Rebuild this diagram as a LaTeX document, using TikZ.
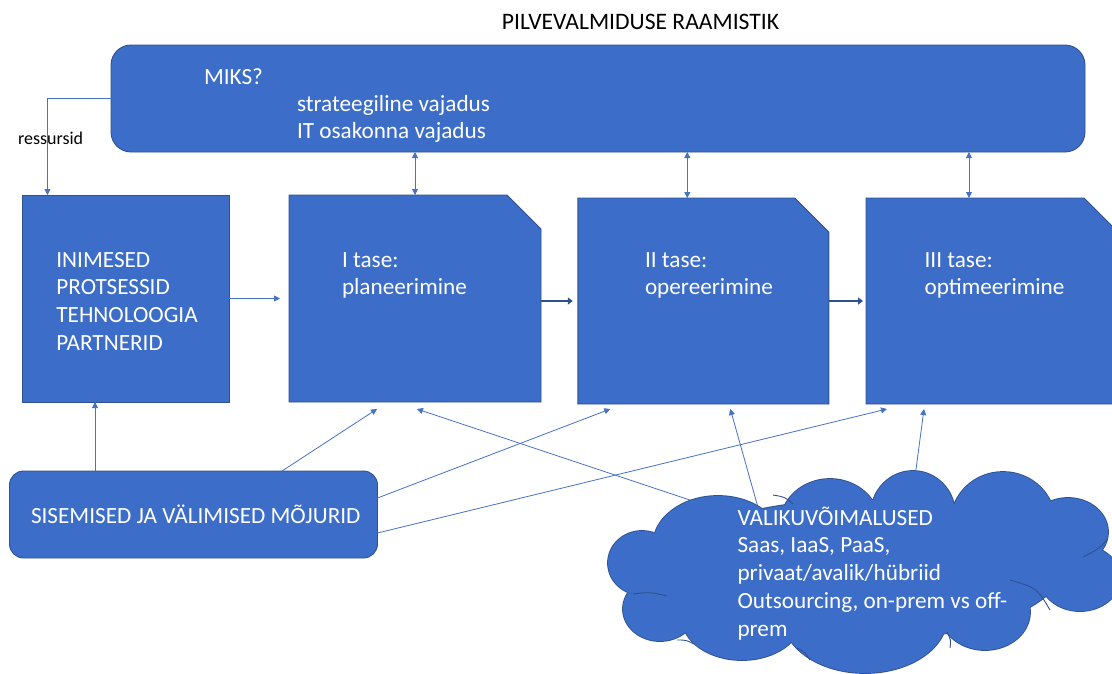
\documentclass[tikz,border=0pt]{standalone}
\usepackage{fontspec}
\setmainfont{Carlito}
\usetikzlibrary{arrows.meta}
\definecolor{boxfill}{HTML}{3C6DC8}
\definecolor{boxline}{HTML}{2F528F}
\definecolor{linkblue}{HTML}{4472C4}

\begin{document}
\begin{tikzpicture}[x=1pt,y=-1pt,
  every node/.style={inner sep=0pt, outer sep=0pt},
  panel/.style={draw=boxline, line width=0.9pt, fill=boxfill},
  boxtext/.style={text=white, font=\fontsize{23.2}{27.8}\selectfont, align=left, anchor=base west},
  link/.style={draw=linkblue, line width=0.8pt, -{Triangle[length=6pt,width=6pt]}},
  twoway/.style={draw=linkblue, line width=0.8pt, {Triangle[length=6pt,width=6pt]}-{Triangle[length=6pt,width=6pt]}},
  flow/.style={draw=boxline, line width=2.6pt, -{Triangle[length=5pt,width=7pt]}},
  crease/.style={draw=boxline, line width=0.9pt},
]
\useasboundingbox (0,0) rectangle (1112,673);
\clip (0,0) rectangle (1112,673);

% title
\node (title) [font=\fontsize{23.6}{28}\selectfont, anchor=base] at (640.5,29) {PILVEVALMIDUSE RAAMISTIK};

% top banner (multi-line texts are placed by the baseline of their last line)
\node (miks) [panel, rounded corners=20pt, minimum width=974pt, minimum height=107pt] at (598,98.5) {};
\node (miksA) [boxtext] at (204,84) {MIKS?};
\node (miksB) [boxtext] at (297,138.8) {strateegiline vajadus\\IT osakonna vajadus};

% left square
\node (inim) [panel, minimum width=207pt, minimum height=207pt] at (125.5,298.5) {};
\node (inimT) [boxtext] at (56.4,350.4) {INIMESED\\PROTSESSID\\TEHNOLOOGIA\\PARTNERID};

% three levels, snipped top-right corner
\node (b1) [minimum width=252pt, minimum height=207pt] at (415,298.5) {};
\draw[panel] (b1.south west) -- (b1.north west) -- ([xshift=-34pt]b1.north east)
  -- ([yshift=-34pt]b1.north east) -- (b1.south east) -- cycle;
\node (b2) [minimum width=251pt, minimum height=206pt] at (703.3,301) {};
\draw[panel] (b2.south west) -- (b2.north west) -- ([xshift=-34pt]b2.north east)
  -- ([yshift=-34pt]b2.north east) -- (b2.south east) -- cycle;
\node (b3) [minimum width=252pt, minimum height=206pt] at (992,301) {};
\draw[panel] (b3.south west) -- (b3.north west) -- ([xshift=-34pt]b3.north east)
  -- ([yshift=-34pt]b3.north east) -- (b3.south east) -- cycle;
\node (b1T) [boxtext] at (342,294.8) {I tase:\\planeerimine};
\node (b2T) [boxtext] at (645,294.8) {II tase:\\opereerimine};
\node (b3T) [boxtext] at (924.6,294.8) {III tase:\\optimeerimine};

% influences
\node (m) [panel, rounded corners=14pt, minimum width=368pt, minimum height=87pt] at (193.5,514.5) {};
\node (mT) [boxtext] at (31,523) {SISEMISED JA VÄLIMISED MÕJURID};

% resources
\node (res) [font=\fontsize{18}{20}\selectfont, anchor=base west] at (18,144) {ressursid};
\draw[link] (miks.west) -| ([xshift=25.5pt]inim.north west);

% banner <-> levels
\coordinate (t2) at ([xshift=-16pt]b2.north);
\coordinate (t3) at ([xshift=-23pt]b3.north);
\draw[twoway] (b1.north |- miks.south) -- (b1.north);
\draw[twoway] (t2 |- miks.south) -- (t2);
\draw[twoway] (t3 |- miks.south) -- (t3);

% flow between squares
\draw[link] (inim.east) -- ([xshift=-9pt]b1.west);
\draw[flow] (b1.east |- b2.west) -- ([xshift=-5pt]b2.west);
\draw[flow] (b2.east) -- ([xshift=-3pt]b3.west);

% influences -> squares
\coordinate (u0) at ([xshift=-30.5pt]inim.south);
\draw[link] (u0 |- m.north) -- (u0);
\draw[link] ([xshift=88.5pt]m.north) -- ([xshift=-38pt,yshift=-7pt]b1.south);
\draw[link] ([yshift=16.5pt]m.east) -- ([xshift=-93pt,yshift=-5pt]b2.south);
\draw[link] ([yshift=-18.5pt]m.east) -- ([xshift=-105pt,yshift=-5pt]b3.south);

% options cloud -> squares (start under the cloud)
\coordinate (c1) at (720,510);
\coordinate (c2) at (759,511);
\coordinate (c3) at (913,492);
\draw[link] (c1) -- ([xshift=2pt,yshift=-7pt]b1.south);
\draw[link] (c2) -- ([xshift=27pt,yshift=-5pt]b2.south);
\draw[link] (c3) -- ([xshift=-68pt,yshift=-5pt]b3.south);

% cloud: union of lobes, outline first then fill
\def\lobes{642/563/34/32, 660/609/37/32, 742/618/60/42, 865/617/82/56,
  985/612/45/38, 1080/578/40/33, 1068/532/40/34, 1003/522/52/50,
  913/514/42/43, 830/525/50/46, 718/545/65/49, 860/570/200/70}
\foreach \cx/\cy/\rx/\ry in \lobes
  \draw[boxline, line width=1.8pt] (\cx,\cy) ellipse [x radius=\rx pt, y radius=\ry pt];
\foreach \cx/\cy/\rx/\ry in \lobes
  \fill[boxfill] (\cx,\cy) ellipse [x radius=\rx pt, y radius=\ry pt];
% creases inside the cloud
\draw[crease] (773,495) .. controls (785,497) .. (793,504);
\draw[crease] (633,594) .. controls (650,592) .. (667,596);
\draw[crease] (677,640) .. controls (686,640) .. (694,644);
\draw[crease] (797,648) .. controls (805,652) .. (810,660);
\draw[crease] (947,632) .. controls (951,640) .. (950,648);
\draw[crease] (1010,580) .. controls (1037,588) .. (1050,610);
\draw[crease] (1083,557) .. controls (1097,550) .. (1107,540);
\node (cT) [boxtext] at (737.5,636.2) {VALIKUVÕIMALUSED\\Saas, IaaS, PaaS,\\privaat/avalik/hübriid\\Outsourcing, on-prem vs off-\\prem};
\end{tikzpicture}
\end{document}
